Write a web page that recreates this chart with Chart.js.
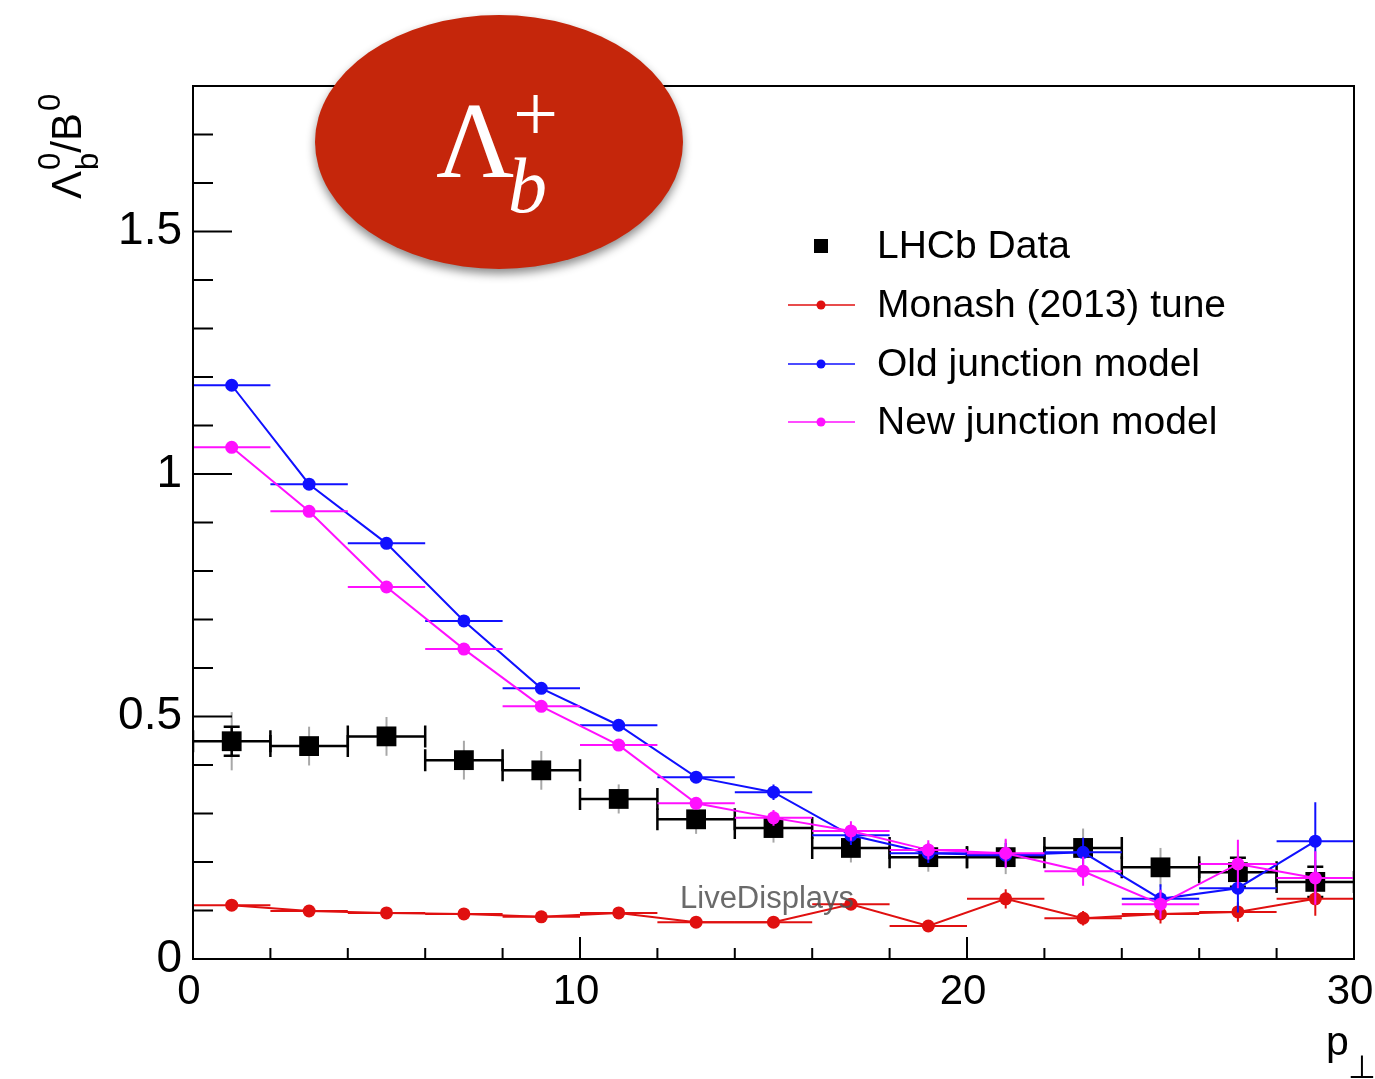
<!DOCTYPE html>
<html><head><meta charset="utf-8">
<script src="https://cdn.jsdelivr.net/npm/chart.js@4.4.1/dist/chart.umd.min.js"></script>
<style>html,body{margin:0;padding:0;background:#fff;}canvas{display:block}</style>
</head><body>
<canvas id="c" width="1375" height="1079"></canvas>
<script>
// ---- data ----
const binCenters = [1, 3, 5, 7, 9, 11, 13, 15, 17, 19, 21, 23, 25, 27, 29];
const binHalfWidth = 1;
const lhcbValues  = [0.449, 0.439, 0.459, 0.410, 0.389, 0.330, 0.288, 0.270, 0.229, 0.210, 0.210, 0.229, 0.189, 0.179, 0.159];
const lhcbStatErr = [0.030, 0.010, 0.010, 0.010, 0.010, 0.010, 0.010, 0.010, 0.010, 0.010, 0.012, 0.015, 0.015, 0.030, 0.031];
const lhcbTotErr  = [0.060, 0.040, 0.040, 0.040, 0.040, 0.030, 0.030, 0.030, 0.030, 0.030, 0.035, 0.040, 0.040, 0.045, 0.045];
const monashValues = [0.111, 0.099, 0.095, 0.093, 0.087, 0.095, 0.076, 0.076, 0.113, 0.068, 0.124, 0.084, 0.093, 0.097, 0.124];
const monashErr    = [0.004, 0.004, 0.004, 0.004, 0.004, 0.005, 0.005, 0.006, 0.008, 0.010, 0.020, 0.015, 0.020, 0.020, 0.035];
const oldValues = [1.183, 0.979, 0.857, 0.697, 0.558, 0.482, 0.375, 0.344, 0.255, 0.218, 0.214, 0.220, 0.124, 0.146, 0.243];
const oldErr    = [0.012, 0.006, 0.006, 0.006, 0.006, 0.008, 0.012, 0.016, 0.020, 0.020, 0.025, 0.030, 0.030, 0.050, 0.080];
const newValues = [1.055, 0.923, 0.767, 0.639, 0.521, 0.441, 0.321, 0.291, 0.264, 0.225, 0.218, 0.181, 0.113, 0.196, 0.167];
const newErr    = [0.010, 0.006, 0.006, 0.006, 0.006, 0.008, 0.010, 0.016, 0.020, 0.020, 0.030, 0.030, 0.030, 0.050, 0.055];
const seriesNames = ['LHCb Data', 'Monash (2013) tune', 'Old junction model', 'New junction model'];
const xTickLabels = [0, 10, 20, 30];
const xMinorTicks = [2, 4, 6, 8, 12, 14, 16, 18, 22, 24, 26, 28];
const yTickLabels = [0, 0.5, 1, 1.5];
const yMinorTicks = [0.1, 0.2, 0.3, 0.4, 0.6, 0.7, 0.8, 0.9, 1.1, 1.2, 1.3, 1.4, 1.6, 1.7, 1.8];

const RED = '#e01010', BLUE = '#1010ff', MAG = '#ff10ff', BLACK = '#000000';
const SANS = '"Liberation Sans", Arial, Helvetica, sans-serif';

function pts(vals) { return binCenters.map((x, i) => ({ x: x, y: vals[i] })); }

const datasets = [
  { label: seriesNames[0], data: pts(lhcbValues), showLine: false, order: 4,
    pointStyle: 'rect', pointRadius: 14, pointBackgroundColor: BLACK, pointBorderWidth: 0, borderColor: BLACK,
    errY: lhcbStatErr, errSys: lhcbTotErr, caps: true, errColor: BLACK },
  { label: seriesNames[1], data: pts(monashValues), showLine: true, order: 3, borderColor: RED, borderWidth: 2,
    pointRadius: 6.5, pointBackgroundColor: RED, pointBorderWidth: 0, errY: monashErr, errColor: RED },
  { label: seriesNames[2], data: pts(oldValues), showLine: true, order: 2, borderColor: BLUE, borderWidth: 2,
    pointRadius: 6.5, pointBackgroundColor: BLUE, pointBorderWidth: 0, errY: oldErr, errColor: BLUE },
  { label: seriesNames[3], data: pts(newValues), showLine: true, order: 1, borderColor: MAG, borderWidth: 2,
    pointRadius: 6.5, pointBackgroundColor: MAG, pointBorderWidth: 0, errY: newErr, errColor: MAG }
];

const errorBarPlugin = {
  id: 'errbars',
  beforeDatasetDraw(chart, args) {
    const ds = chart.data.datasets[args.index];
    const xs = chart.scales.x, ys = chart.scales.y, ctx = chart.ctx, a = chart.chartArea;
    ctx.save();
    ctx.beginPath(); ctx.rect(a.left, a.top, a.right - a.left, a.bottom - a.top); ctx.clip();
    ds.data.forEach((p, i) => {
      const px = xs.getPixelForValue(p.x), py = ys.getPixelForValue(p.y);
      const xl = xs.getPixelForValue(p.x - binHalfWidth), xr = xs.getPixelForValue(p.x + binHalfWidth);
      if (ds.errSys) {
        ctx.strokeStyle = '#a8a8a8'; ctx.lineWidth = 2;
        ctx.beginPath();
        ctx.moveTo(px, ys.getPixelForValue(p.y + ds.errSys[i]));
        ctx.lineTo(px, ys.getPixelForValue(p.y - ds.errSys[i]));
        ctx.stroke();
      }
      ctx.strokeStyle = ds.errColor; ctx.lineWidth = ds.caps ? 2.5 : 2;
      const yt = ys.getPixelForValue(p.y + ds.errY[i]), yb = ys.getPixelForValue(p.y - ds.errY[i]);
      ctx.beginPath();
      ctx.moveTo(xl, py); ctx.lineTo(xr, py);
      ctx.moveTo(px, yt); ctx.lineTo(px, yb);
      if (ds.caps) {
        ctx.moveTo(xl, py - 11); ctx.lineTo(xl, py + 11);
        ctx.moveTo(xr, py - 11); ctx.lineTo(xr, py + 11);
        if (yb - yt > 22) {
          ctx.moveTo(px - 8, yt); ctx.lineTo(px + 8, yt);
          ctx.moveTo(px - 8, yb); ctx.lineTo(px + 8, yb);
        }
      }
      ctx.stroke();
    });
    ctx.restore();
  }
};

const decorPlugin = {
  id: 'decor',
  afterDraw(chart) {
    const ctx = chart.ctx, a = chart.chartArea, xs = chart.scales.x, ys = chart.scales.y;
    ctx.save();
    // frame
    ctx.strokeStyle = '#000'; ctx.lineWidth = 2;
    ctx.strokeRect(a.left, a.top, a.right - a.left, a.bottom - a.top);
    // inward ticks
    ctx.beginPath();
    yTickLabels.forEach(v => { const y = ys.getPixelForValue(v); ctx.moveTo(a.left, y); ctx.lineTo(a.left + 39, y); });
    yMinorTicks.forEach(v => { const y = ys.getPixelForValue(v); ctx.moveTo(a.left, y); ctx.lineTo(a.left + 20, y); });
    xTickLabels.forEach(v => { const x = xs.getPixelForValue(v); ctx.moveTo(x, a.bottom); ctx.lineTo(x, a.bottom - 22); });
    xMinorTicks.forEach(v => { const x = xs.getPixelForValue(v); ctx.moveTo(x, a.bottom); ctx.lineTo(x, a.bottom - 11); });
    ctx.stroke();

    // watermark
    ctx.font = '31px ' + SANS; ctx.fillStyle = 'rgba(80,80,80,0.85)';
    ctx.textBaseline = 'alphabetic'; ctx.textAlign = 'left';
    ctx.fillText('LiveDisplays', 680, 908);

    // legend
    const rows = [246, 305, 364, 422];
    const cols = [BLACK, RED, BLUE, MAG];
    ctx.font = '39px ' + SANS; ctx.textBaseline = 'middle'; ctx.fillStyle = '#000';
    rows.forEach((y, i) => {
      if (i === 0) {
        ctx.fillStyle = BLACK; ctx.fillRect(814, y - 7, 14, 14);
      } else {
        ctx.strokeStyle = cols[i]; ctx.lineWidth = 1.5;
        ctx.beginPath(); ctx.moveTo(788, y); ctx.lineTo(855, y); ctx.stroke();
        ctx.fillStyle = cols[i]; ctx.beginPath(); ctx.arc(821, y, 4.5, 0, Math.PI * 2); ctx.fill();
      }
      ctx.fillStyle = '#000';
      ctx.fillText(seriesNames[i], 877, y + 1);
    });

    // y axis title  Λ_b^0 / B^0
    ctx.save();
    ctx.translate(81, 199); ctx.rotate(-Math.PI / 2);
    ctx.fillStyle = '#000'; ctx.textBaseline = 'alphabetic'; ctx.textAlign = 'left';
    ctx.font = '42px ' + SANS;
    let x = 0;
    ctx.fillText('Λ', x, 0); x += ctx.measureText('Λ').width + 1;
    ctx.font = '31px ' + SANS;
    ctx.fillText('b', x, 17); ctx.fillText('0', x, -21);
    x += Math.max(ctx.measureText('b').width, ctx.measureText('0').width);
    ctx.font = '42px ' + SANS;
    ctx.fillText('/', x, 0); x += ctx.measureText('/').width;
    ctx.fillText('B', x, 0); x += ctx.measureText('B').width + 2;
    ctx.font = '31px ' + SANS;
    ctx.fillText('0', x, -21);
    ctx.restore();

    // x axis title p⊥
    ctx.fillStyle = '#000'; ctx.textAlign = 'left'; ctx.textBaseline = 'alphabetic';
    ctx.font = '41px ' + SANS;
    ctx.fillText('p', 1326, 1055);
    ctx.font = '32px "DejaVu Sans", ' + SANS;
    ctx.fillText('⊥', 1348, 1078);

    // badge
    ctx.save();
    ctx.shadowColor = 'rgba(0,0,0,0.45)'; ctx.shadowBlur = 10; ctx.shadowOffsetY = 5;
    ctx.fillStyle = '#c5260b';
    ctx.beginPath(); ctx.ellipse(499, 142, 184, 127, 0, 0, Math.PI * 2); ctx.fill();
    ctx.restore();
    ctx.fillStyle = '#ffffff'; ctx.textAlign = 'left'; ctx.textBaseline = 'alphabetic';
    ctx.font = '108px "Liberation Serif", "Times New Roman", serif';
    ctx.fillText('Λ', 436, 177);
    ctx.font = '80px "Liberation Serif", "Times New Roman", serif';
    ctx.fillText('+', 513, 141);
    ctx.font = 'italic 78px "Liberation Serif", "Times New Roman", serif';
    ctx.fillText('b', 508, 212);
    ctx.restore();
  }
};

new Chart(document.getElementById('c'), {
  type: 'scatter',
  data: { datasets: datasets },
  options: {
    responsive: false, animation: false, devicePixelRatio: 1,
    layout: { padding: { left: 0, top: 86, right: 21, bottom: 0 } },
    plugins: { legend: { display: false }, tooltip: { enabled: false } },
    scales: {
      x: {
        type: 'linear', min: 0, max: 30,
        afterFit(s) { s.height = 120; s.paddingLeft = 0; s.paddingRight = 0; },
        afterBuildTicks(s) { s.ticks = xTickLabels.map(v => ({ value: v })); },
        grid: { display: true, drawOnChartArea: false, drawTicks: false },
        border: { display: true, color: '#000', width: 2 },
        ticks: { color: '#000', font: { family: SANS, size: 42 }, padding: 8, labelOffset: -4, maxRotation: 0, autoSkip: false }
      },
      y: {
        type: 'linear', min: 0, max: 1.8,
        afterFit(s) { s.width = 193; s.paddingTop = 0; s.paddingBottom = 0; },
        afterBuildTicks(s) { s.ticks = yTickLabels.map(v => ({ value: v })); },
        grid: { display: true, drawOnChartArea: false, drawTicks: false },
        border: { display: true, color: '#000', width: 2 },
        ticks: { color: '#000', font: { family: SANS, size: 46 }, padding: 11, autoSkip: false,
                 callback: v => String(v) }
      }
    }
  },
  plugins: [errorBarPlugin, decorPlugin]
});
</script>
</body></html>
